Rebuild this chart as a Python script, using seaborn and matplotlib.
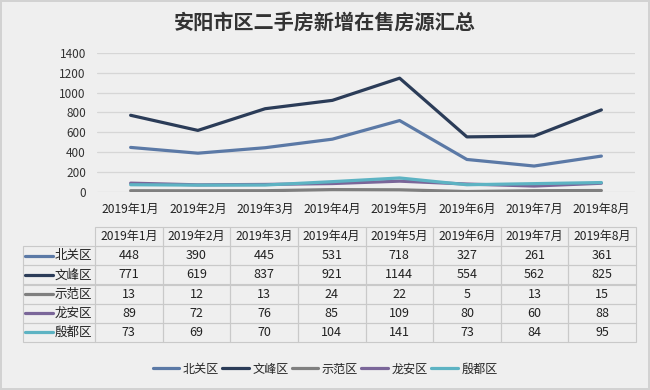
import pandas as pd
import matplotlib.pyplot as plt
from matplotlib.lines import Line2D
import seaborn as sns

# data
months = ['2019年1月', '2019年2月', '2019年3月', '2019年4月',
          '2019年5月', '2019年6月', '2019年7月', '2019年8月']
districts = ['北关区', '文峰区', '示范区', '龙安区', '殷都区']
beiguan = [448, 390, 445, 531, 718, 327, 261, 361]
wenfeng = [771, 619, 837, 921, 1144, 554, 562, 825]
shifan = [13, 12, 13, 24, 22, 5, 13, 15]
longan = [89, 72, 76, 85, 109, 80, 60, 88]
yindu = [73, 69, 70, 104, 141, 73, 84, 95]
series = [beiguan, wenfeng, shifan, longan, yindu]
colors = ['#5b79a6', '#2b3c58', '#7f7f7f', '#7a6699', '#5db3c3']

df = pd.DataFrame([
    {'month': m, 'district': d, 'value': v}
    for d, vals in zip(districts, series)
    for m, v in zip(months, vals)
])

bg = '#efefef'
sns.set_theme(style='whitegrid')
plt.rcParams['font.family'] = ['Noto Sans CJK SC', 'DejaVu Sans']

W, H = 650, 390
fig = plt.figure(figsize=(6.5, 3.9), dpi=100, facecolor=bg)
fig.patch.set_edgecolor('#d2d2d2')
fig.patch.set_linewidth(1.5)

# main line chart
ax = fig.add_axes([97 / W, 1 - 192 / H, (635 - 97) / W, (192 - 52.7) / H])
ax.set_facecolor(bg)
sns.lineplot(data=df, x='month', y='value', hue='district', hue_order=districts,
             palette=colors, linewidth=2.3, sort=False, ax=ax, legend=False)
ax.set_xlim(-0.5, len(months) - 0.5)
ax.set_ylim(0, 1400)
ax.set_yticks(range(0, 1401, 200))
ax.grid(axis='y', color='#d6d6d6', linewidth=0.9)
ax.grid(axis='x', visible=False)
for s in ax.spines.values():
    s.set_visible(False)
ax.set_xlabel('')
ax.set_ylabel('')
ax.tick_params(axis='y', labelsize=8.5, colors='#333333', pad=2)
ax.tick_params(axis='x', labelsize=8.7, colors='#222222', pad=2)
ax.set_xticks(range(len(months)))
ax.set_xticklabels(months)

fig.text(0.5, 1 - 22 / H, '安阳市区二手房新增在售房源汇总', ha='center', va='center',
         fontsize=14.5, fontweight='bold', color='#333333')

# data table
tx0, tx1, ty0, ty1 = 23, 636, 227, 342
ax_t = fig.add_axes([tx0 / W, 1 - ty1 / H, (tx1 - tx0) / W, (ty1 - ty0) / H])
ax_t.axis('off')
cell_text = [[''] + months] + [[''] + [str(v) for v in vals] for vals in series]
lab_w = (95 - tx0) / (tx1 - tx0)
col_w = (1 - lab_w) / len(months)
tab = ax_t.table(cellText=cell_text, colWidths=[lab_w] + [col_w] * len(months),
                 cellLoc='center', bbox=[0, 0, 1, 1])
tab.auto_set_font_size(False)
for (r, c), cell in tab.get_celld().items():
    cell.set_facecolor('none')
    cell.set_edgecolor('#c9c9c9')
    cell.set_linewidth(0.8)
    cell.get_text().set_fontsize(8.7 if r == 0 else 9)
    cell.get_text().set_color('#222222')
    if r == 0 and c == 0:
        cell.visible_edges = ''

# row labels with line keys
n_rows = len(districts) + 1
for i, (d, col) in enumerate(zip(districts, colors)):
    yc = 1 - (i + 1.5) / n_rows
    ax_t.add_line(Line2D([(25 - tx0) / (tx1 - tx0), (53 - tx0) / (tx1 - tx0)], [yc, yc],
                         color=col, linewidth=2.3, transform=ax_t.transAxes))
    ax_t.text((92 - tx0) / (tx1 - tx0), yc, d, ha='right', va='center',
              fontsize=9, color='#222222', transform=ax_t.transAxes)

# bottom legend
handles = [Line2D([], [], color=c, linewidth=2.3) for c in colors]
fig.legend(handles, districts, loc='center', bbox_to_anchor=(0.5, 1 - 369 / H),
           ncol=5, frameon=False, fontsize=8.7, handlelength=2.2,
           handletextpad=0.3, columnspacing=0.25)

fig.savefig('out.png', dpi=100, facecolor=bg, edgecolor=fig.get_edgecolor())
